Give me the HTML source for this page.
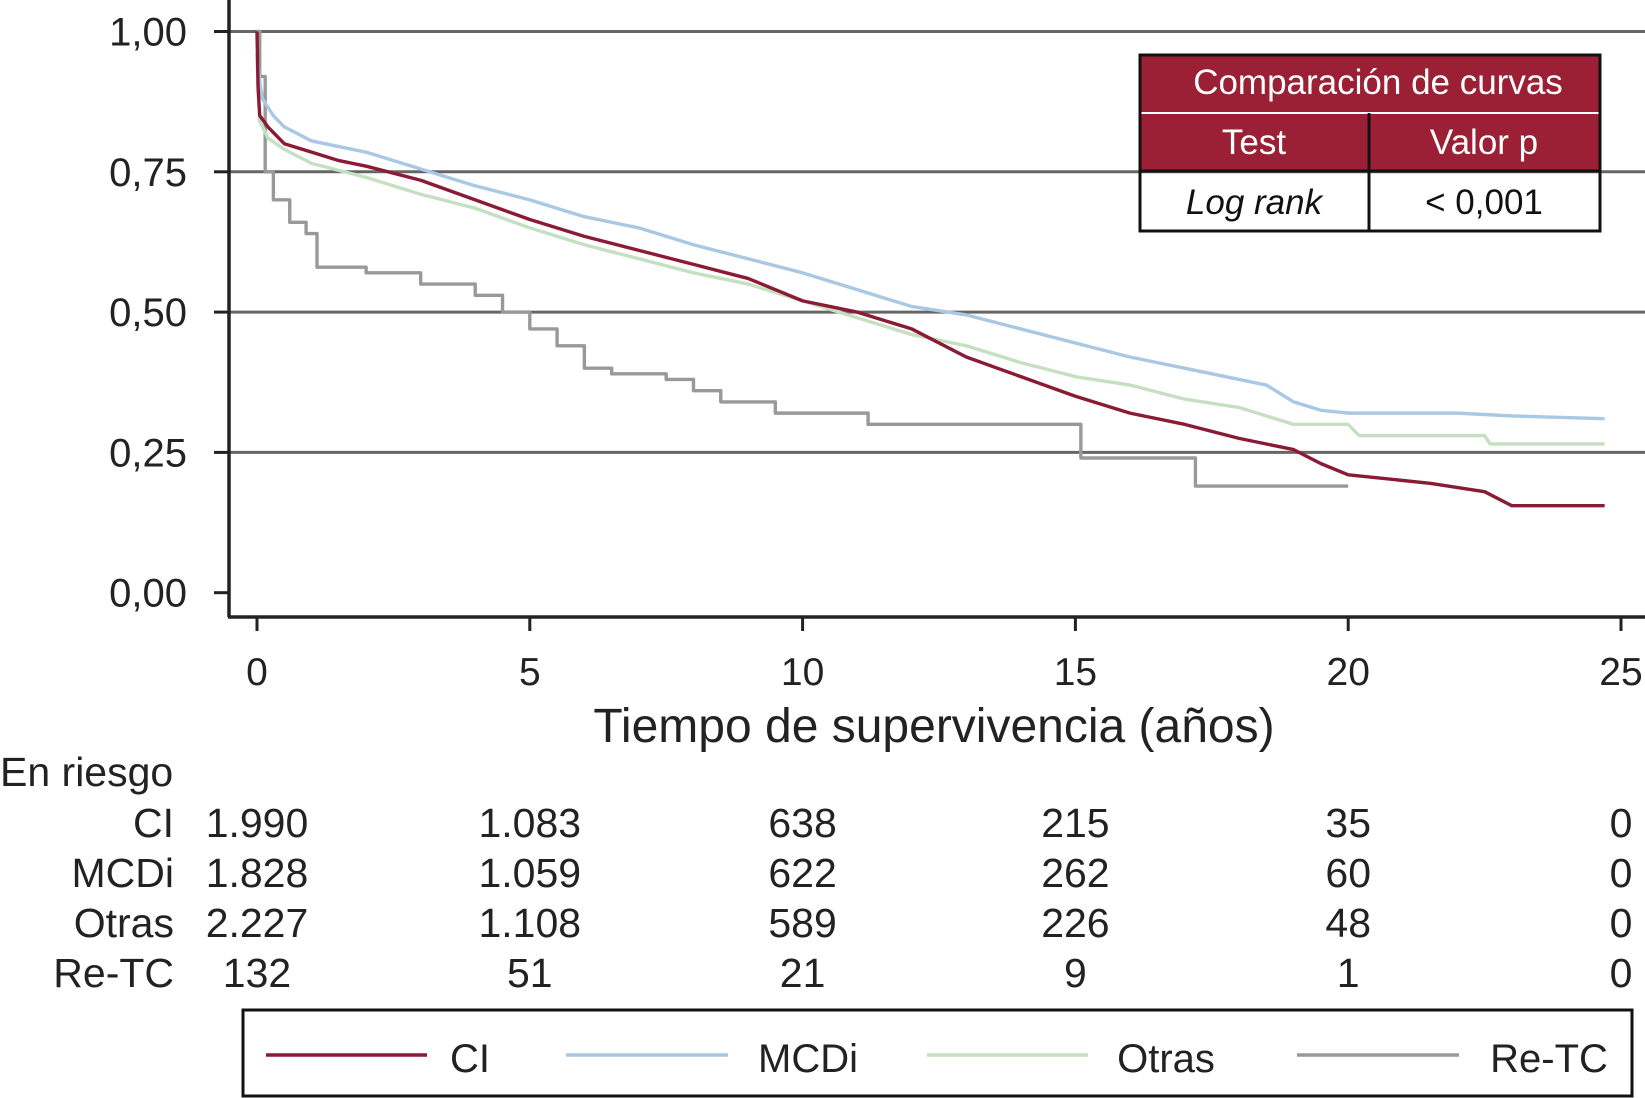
<!DOCTYPE html>
<html><head><meta charset="utf-8">
<style>
html,body{margin:0;padding:0;background:#fff;}
svg{display:block;font-family:"Liberation Sans",Arial,sans-serif;}
</style></head>
<body>
<svg id="chart" width="1645" height="1098" viewBox="0 0 1645 1098">
<g id="grid"></g>
<g id="axes"></g>
<g id="series"></g>
<g id="risk"></g>
<g>
  <rect x="1140" y="55" width="460" height="58" fill="#9b2035"/>
  <rect x="1140" y="113" width="460" height="58" fill="#9b2035"/>
  <line x1="1140" y1="113" x2="1600" y2="113" stroke="#fff" stroke-width="2"/>
  <rect x="1140" y="55" width="460" height="176" fill="none" stroke="#111" stroke-width="3"/>
  <line x1="1369" y1="113" x2="1369" y2="231" stroke="#111" stroke-width="3"/>
  <line x1="1140" y1="171" x2="1600" y2="171" stroke="#111" stroke-width="3"/>
  <text x="1378" y="94" font-size="35" fill="#fff" text-anchor="middle">Comparación de curvas</text>
  <text x="1254" y="154" font-size="35" fill="#fff" text-anchor="middle">Test</text>
  <text x="1484" y="154" font-size="35" fill="#fff" text-anchor="middle">Valor p</text>
  <text x="1254" y="214" font-size="35" fill="#111" font-style="italic" text-anchor="middle">Log rank</text>
  <text x="1484" y="214" font-size="35" fill="#111" text-anchor="middle">&lt; 0,001</text>
</g>
<g>
  <rect x="243" y="1010" width="1389" height="86" fill="#fff" stroke="#111" stroke-width="3"/>
  <line x1="266" y1="1055" x2="427" y2="1055" stroke="#8b1a35" stroke-width="3.5"/>
  <text x="470" y="1072" font-size="40" fill="#222" text-anchor="middle">CI</text>
  <line x1="566" y1="1055" x2="728" y2="1055" stroke="#a9c8e4" stroke-width="3.5"/>
  <text x="808" y="1072" font-size="40" fill="#222" text-anchor="middle">MCDi</text>
  <line x1="927" y1="1055" x2="1088" y2="1055" stroke="#c5e0c0" stroke-width="3.5"/>
  <text x="1166" y="1072" font-size="40" fill="#222" text-anchor="middle">Otras</text>
  <line x1="1297" y1="1055" x2="1459" y2="1055" stroke="#999" stroke-width="3.5"/>
  <text x="1549" y="1072" font-size="40" fill="#222" text-anchor="middle">Re-TC</text>
</g>
</svg>
<script>
const yTicks = [0, 0.25, 0.5, 0.75, 1];
const yTickLabels = ["0,00", "0,25", "0,50", "0,75", "1,00"];
const xTicks = [0, 5, 10, 15, 20, 25];
const ciT = [0,0.02,0.05,0.2,0.5,1,1.5,2,3,4,5,6,7,8,9,10,11,12,13,14,15,16,17,18,19,19.5,20,21.5,22.5,23,24.7];
const ciS = [1,0.90,0.85,0.83,0.80,0.785,0.77,0.76,0.735,0.70,0.665,0.635,0.61,0.585,0.56,0.52,0.50,0.47,0.42,0.385,0.35,0.32,0.30,0.275,0.255,0.23,0.21,0.195,0.18,0.155,0.155];
const mcdiT = [0,0.05,0.1,0.3,0.5,1,1.5,2,3,4,5,6,7,8,9,10,11,12,13,14,15,16,17,18,18.5,19,19.5,20,21,22,23,24.7];
const mcdiS = [0.96,0.91,0.88,0.85,0.83,0.805,0.795,0.785,0.755,0.725,0.70,0.67,0.65,0.62,0.595,0.57,0.54,0.51,0.495,0.47,0.445,0.42,0.40,0.38,0.37,0.34,0.325,0.32,0.32,0.32,0.315,0.31];
const otrasT = [0,0.03,0.05,0.2,0.5,1,2,3,4,5,6,7,8,9,10,11,12,13,14,15,16,17,18,19,20,20.2,22.5,22.6,24.7];
const otrasS = [0.95,0.88,0.84,0.81,0.79,0.765,0.74,0.71,0.685,0.65,0.62,0.595,0.57,0.55,0.52,0.49,0.46,0.44,0.41,0.385,0.37,0.345,0.33,0.30,0.30,0.28,0.28,0.265,0.265];
const retcT = [0,0.05,0.15,0.3,0.6,0.9,1.1,2,3,4,4.5,5,5.5,6,6.5,7.5,8,8.5,9.5,11.2,15,15.1,17,17.2,20];
const retcS = [1,0.92,0.75,0.70,0.66,0.64,0.58,0.57,0.55,0.53,0.50,0.47,0.44,0.40,0.39,0.38,0.36,0.34,0.32,0.30,0.30,0.24,0.24,0.19,0.19];
const riskGroups = ["CI", "MCDi", "Otras", "Re-TC"];
const riskCI = ["1.990","1.083","638","215","35","0"];
const riskMCDi = ["1.828","1.059","622","262","60","0"];
const riskOtras = ["2.227","1.108","589","226","48","0"];
const riskReTC = ["132","51","21","9","1","0"];

const NS = "http://www.w3.org/2000/svg";
const xs = t => 257 + t * (1621 - 257) / 25;
const ys = v => 592.7 - v * (592.7 - 31.5);
function mk(tag, attrs, parent, text) {
  const e = document.createElementNS(NS, tag);
  for (const k in attrs) e.setAttribute(k, attrs[k]);
  if (text !== undefined) e.textContent = text;
  parent.appendChild(e);
  return e;
}
const grid = document.getElementById('grid');
const axes = document.getElementById('axes');
const series = document.getElementById('series');
const risk = document.getElementById('risk');

yTicks.forEach((v, i) => {
  if (v > 0) {
    const g = mk('line', {x1: 229, x2: 1645, y1: ys(v), y2: ys(v), stroke: '#666', 'stroke-width': 3}, grid);
    
    
  }
  const tk = mk('line', {x1: 214, x2: 229, y1: ys(v), y2: ys(v), stroke: '#222', 'stroke-width': 3}, axes);
  
  
  const tl = mk('text', {x: 187, y: ys(v) + 14, 'font-size': 40, fill: '#222', 'text-anchor': 'end'}, axes, yTickLabels[i]);
  
  
});
const yax = mk('line', {x1: 229, x2: 229, y1: 0, y2: 617, stroke: '#222', 'stroke-width': 3.5}, axes);


const xax = mk('line', {x1: 228, x2: 1645, y1: 617, y2: 617, stroke: '#222', 'stroke-width': 3.5}, axes);


xTicks.forEach(t => {
  const tk = mk('line', {x1: xs(t), x2: xs(t), y1: 617, y2: 631, stroke: '#222', 'stroke-width': 3}, axes);
  
  
  const tl = mk('text', {x: xs(t), y: 685, 'font-size': 39, fill: '#222', 'text-anchor': 'middle'}, axes, String(t));
  
  
});
const xt = mk('text', {x: 934, y: 742, 'font-size': 48, fill: '#222', 'text-anchor': 'middle'}, axes, 'Tiempo de supervivencia (años)');



function linePath(T, S) {
  let d = 'M' + xs(T[0]) + ' ' + ys(S[0]);
  for (let i = 1; i < T.length; i++) d += ' L' + xs(T[i]) + ' ' + ys(S[i]);
  return d;
}
function stepPath(T, S) {
  let d = 'M' + xs(T[0]) + ' ' + ys(S[0]);
  for (let i = 1; i < T.length; i++) d += ' H' + xs(T[i]) + ' V' + ys(S[i]);
  return d;
}
const defs = [
  [retcT, retcS, '#999', 'series-retc', stepPath],
  [otrasT, otrasS, '#c5e0c0', 'series-otras', linePath],
  [mcdiT, mcdiS, '#a9c8e4', 'series-mcdi', linePath],
  [ciT, ciS, '#8b1a35', 'series-ci', linePath]
];
defs.forEach(s => {
  const p = mk('path', {d: s[4](s[0], s[1]), fill: 'none', stroke: s[2], 'stroke-width': 3.4, 'stroke-linejoin': 'round'}, series);
  
  
});

const er = mk('text', {x: 0, y: 786, 'font-size': 41, fill: '#222'}, risk, 'En riesgo');


const rows = [riskCI, riskMCDi, riskOtras, riskReTC];
rows.forEach((r, i) => {
  const y = 837 + i * 50;
  const l = mk('text', {x: 174, y: y, 'font-size': 41, fill: '#222', 'text-anchor': 'end'}, risk, riskGroups[i]);
  
  
  r.forEach((v, j) => {
    const c = mk('text', {x: xs(xTicks[j]), y: y, 'font-size': 41, fill: '#222', 'text-anchor': 'middle'}, risk, v);
    
    
  });
});
</script>
</body></html>
